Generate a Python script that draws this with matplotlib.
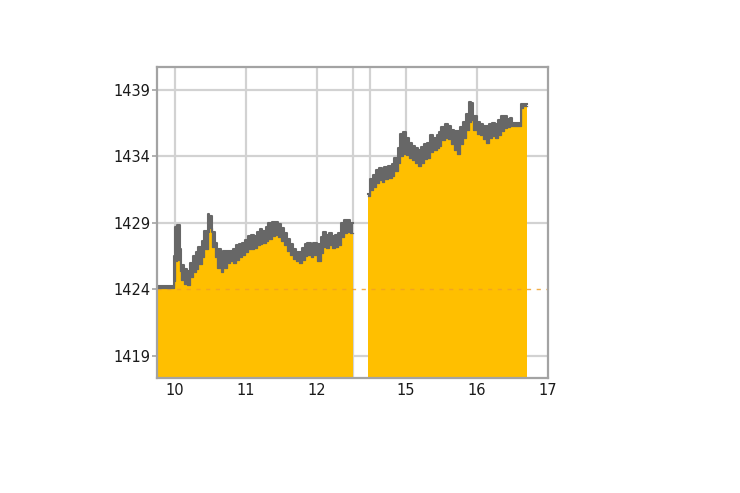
import matplotlib
matplotlib.use("Agg")
import matplotlib.pyplot as plt

# ---------------- data ----------------
am_times = ["09:45", "09:58", "09:59", "10:00", "10:02", "10:04", "10:05", "10:08", "10:10", "10:13",
            "10:15", "10:18", "10:20", "10:23", "10:25", "10:28", "10:29", "10:31", "10:34", "10:36",
            "10:39", "10:41", "10:44", "10:47", "10:49", "10:52", "10:54", "10:57", "10:59", "11:02",
            "11:04", "11:07", "11:09", "11:12", "11:14", "11:17", "11:19", "11:22", "11:25", "11:27",
            "11:30", "11:32", "11:35", "11:37", "11:40", "11:42", "11:45", "11:47", "11:50", "11:52",
            "11:55", "11:57", "12:00", "12:03", "12:05", "12:08", "12:10", "12:13", "12:15", "12:18",
            "12:20", "12:23", "12:25", "12:28", "12:30"]
am_high = [1424.25, 1424.25, 1426.5, 1428.7, 1428.8, 1427.0, 1425.8, 1425.5, 1425.4, 1426.0,
           1426.5, 1426.8, 1427.2, 1427.6, 1428.4, 1429.7, 1429.5, 1428.3, 1427.5, 1427.0,
           1426.8, 1426.9, 1426.9, 1426.9, 1427.0, 1427.3, 1427.4, 1427.5, 1427.7, 1428.0,
           1428.1, 1428.0, 1428.3, 1428.5, 1428.4, 1428.7, 1429.0, 1429.1, 1429.1, 1428.9,
           1428.6, 1428.2, 1427.8, 1427.4, 1427.0, 1426.8, 1426.8, 1427.1, 1427.4, 1427.5,
           1427.3, 1427.5, 1427.4, 1427.9, 1428.3, 1428.1, 1428.2, 1428.0, 1428.1, 1428.2,
           1429.0, 1429.2, 1429.2, 1429.0, 1429.0]
am_low = [1424.10, 1424.10, 1424.6, 1426.1, 1426.2, 1425.4, 1424.7, 1424.4, 1424.3, 1424.9,
          1425.3, 1425.5, 1425.9, 1426.4, 1427.0, 1428.3, 1428.6, 1427.2, 1426.4, 1425.6,
          1425.3, 1425.6, 1426.0, 1426.1, 1426.0, 1426.2, 1426.4, 1426.6, 1426.8, 1427.0,
          1427.0, 1427.1, 1427.3, 1427.4, 1427.5, 1427.6, 1427.8, 1428.0, 1428.1, 1427.9,
          1427.6, 1427.3, 1426.9, 1426.6, 1426.3, 1426.1, 1426.0, 1426.2, 1426.5, 1426.6,
          1426.4, 1426.6, 1426.1, 1426.7, 1427.2, 1427.1, 1427.3, 1427.1, 1427.2, 1427.3,
          1427.9, 1428.2, 1428.3, 1428.2, 1428.2]

pm_times = ["14:28", "14:30", "14:32", "14:35", "14:37", "14:40", "14:42", "14:45", "14:48", "14:50",
            "14:53", "14:55", "14:58", "15:00", "15:03", "15:05", "15:08", "15:10", "15:13", "15:15",
            "15:18", "15:20", "15:23", "15:26", "15:28", "15:30", "15:33", "15:36", "15:38", "15:41",
            "15:43", "15:46", "15:48", "15:51", "15:53", "15:55", "15:57", "16:00", "16:03", "16:05",
            "16:08", "16:10", "16:13", "16:15", "16:18", "16:20", "16:23", "16:25", "16:28", "16:30",
            "16:33", "16:35", "16:37", "16:39", "16:41", "16:42"]
pm_high = [1431.2, 1432.3, 1432.6, 1433.0, 1433.1, 1433.0, 1433.2, 1433.3, 1433.4, 1433.9,
           1434.6, 1435.7, 1435.8, 1435.4, 1435.0, 1434.8, 1434.6, 1434.5, 1434.7, 1434.9,
           1435.0, 1435.6, 1435.4, 1435.6, 1435.8, 1436.2, 1436.4, 1436.3, 1436.0, 1435.9,
           1435.9, 1436.2, 1436.6, 1437.2, 1438.1, 1438.0, 1437.0, 1436.6, 1436.4, 1436.3,
           1436.3, 1436.4, 1436.5, 1436.4, 1436.7, 1437.0, 1437.0, 1436.8, 1436.9, 1436.5,
           1436.5, 1436.5, 1437.9, 1437.9, 1437.9, 1437.9]
pm_low = [1431.0, 1431.5, 1431.7, 1432.0, 1432.2, 1432.1, 1432.3, 1432.4, 1432.5, 1432.9,
          1433.5, 1434.0, 1434.2, 1434.1, 1433.9, 1433.7, 1433.5, 1433.3, 1433.5, 1433.8,
          1433.9, 1434.3, 1434.5, 1434.6, 1434.8, 1435.2, 1435.4, 1435.3, 1434.9, 1434.5,
          1434.2, 1434.9, 1435.4, 1436.0, 1436.6, 1436.7, 1436.0, 1435.7, 1435.6, 1435.3,
          1435.0, 1435.4, 1435.5, 1435.4, 1435.6, 1435.9, 1436.1, 1436.2, 1436.3, 1436.3,
          1436.3, 1436.3, 1437.6, 1437.8, 1437.8, 1437.8]

prev_close = 1424
y_ticks = [1419, 1424, 1429, 1434, 1439]
x_tick_labels = ["10", "11", "12", "15", "16", "17"]
x_tick_times = ["10:00", "11:00", "12:00", "15:00", "16:00", "17:00"]
session_breaks = ["12:30", "14:30"]

# ---------------- style ----------------
YELLOW = "#FFBF00"
GREY = "#676767"
GRID = "#d2d2d2"
SPINE = "#a3a3a3"
ORANGE = "#F0A028"
YMIN, YMAX = 1417.35, 1440.7


def to_pos(s):
    """Map a clock time to a position on the axis with the lunch break compressed."""
    hh, mm = map(int, s.split(":"))
    h = hh + mm / 60.0
    return h - 9.75 if h < 13.5 else h - 11.5


fig = plt.figure(figsize=(7.4, 4.93), dpi=100)
ax = fig.add_axes([157 / 740, 1 - 378 / 493, (548 - 157) / 740, (378 - 67) / 493])
ax.set_facecolor("white")

# grid
for t in x_tick_times[:-1] + session_breaks:
    ax.axvline(to_pos(t), color=GRID, lw=1.6, zorder=1)
for v in y_ticks:
    if v != prev_close:
        ax.axhline(v, color=GRID, lw=1.6, zorder=1)

for times, high, low in [(am_times, am_high, am_low), (pm_times, pm_high, pm_low)]:
    x = [to_pos(t) for t in times]
    ax.fill_between(x, YMIN - 5, high, step="post", color=YELLOW, lw=0, zorder=2)
    ax.fill_between(x, low, high, step="post", color=GREY, lw=0, zorder=3)
    ax.step(x, high, where="post", color=GREY, lw=1.5, zorder=4)
    ax.step(x, low, where="post", color=GREY, lw=0.9, zorder=4)

# previous close reference line (visible faintly over the fill)
ax.axhline(prev_close, color=ORANGE, lw=1.0, dashes=(3, 4), alpha=0.85, zorder=2.5)

ax.set_xlim(to_pos("09:45"), to_pos("17:00"))
ax.set_ylim(YMIN, YMAX)

ax.set_xticks([to_pos(t) for t in x_tick_times])
ax.set_xticklabels(x_tick_labels)
ax.set_yticks(y_ticks)
ax.set_yticklabels([str(v) for v in y_ticks])

ax.tick_params(axis="y", length=3.5, width=1.2, color=SPINE, pad=1,
               labelsize=10.5, labelcolor="#1a1a1a")
ax.tick_params(axis="x", length=0, pad=3.5, labelsize=10.5, labelcolor="#1a1a1a")

for sp in ax.spines.values():
    sp.set_color(SPINE)
    sp.set_linewidth(1.6)
    sp.set_zorder(5)

fig.savefig("out.png", dpi=100, facecolor="white")
